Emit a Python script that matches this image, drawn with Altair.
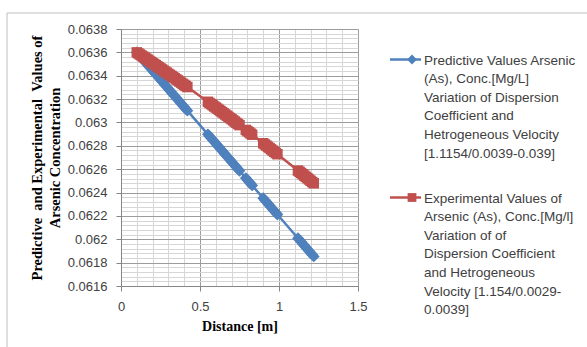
import altair as alt
import pandas as pd

# ---------------- data ----------------
distance = [
    0.10, 0.11, 0.12, 0.13, 0.14, 0.15, 0.16, 0.17, 0.18, 0.19, 0.20, 0.21,
    0.22, 0.23, 0.24, 0.25, 0.26, 0.27, 0.28, 0.29, 0.30, 0.31, 0.32, 0.33,
    0.34, 0.35, 0.36, 0.37, 0.38, 0.39, 0.40, 0.41, 0.42,
    0.55, 0.56, 0.57, 0.58, 0.59, 0.60, 0.61, 0.62, 0.63, 0.64, 0.65, 0.66,
    0.67, 0.68, 0.69, 0.70, 0.71, 0.72, 0.73, 0.74, 0.75,
    0.79, 0.80, 0.81, 0.82, 0.83,
    0.90, 0.91, 0.92, 0.93, 0.94, 0.95, 0.96, 0.97, 0.98, 0.99,
    1.12, 1.13, 1.14, 1.15, 1.16, 1.17, 1.18, 1.19, 1.20, 1.21, 1.22,
]

predicted = [
    0.063600, 0.063584, 0.063569, 0.063553, 0.063538, 0.063522, 0.063506,
    0.063491, 0.063475, 0.063460, 0.063444, 0.063428, 0.063413, 0.063397,
    0.063382, 0.063366, 0.063350, 0.063335, 0.063319, 0.063304, 0.063288,
    0.063272, 0.063257, 0.063241, 0.063226, 0.063210, 0.063194, 0.063179,
    0.063163, 0.063148, 0.063132, 0.063116, 0.063101,
    0.062898, 0.062882, 0.062867, 0.062851, 0.062836, 0.062820, 0.062804,
    0.062789, 0.062773, 0.062758, 0.062742, 0.062726, 0.062711, 0.062695,
    0.062680, 0.062664, 0.062648, 0.062633, 0.062617, 0.062602, 0.062586,
    0.062524, 0.062508, 0.062492, 0.062477, 0.062461,
    0.062352, 0.062336, 0.062321, 0.062305, 0.062290, 0.062274, 0.062258,
    0.062243, 0.062227, 0.062212,
    0.062009, 0.061993, 0.061978, 0.061962, 0.061946, 0.061931, 0.061915,
    0.061900, 0.061884, 0.061868, 0.061853,
]

experimental = [
    0.063600, 0.063591, 0.063582, 0.063573, 0.063564, 0.063555, 0.063546,
    0.063537, 0.063527, 0.063518, 0.063509, 0.063500, 0.063491, 0.063481,
    0.063472, 0.063463, 0.063454, 0.063444, 0.063435, 0.063426, 0.063416,
    0.063407, 0.063398, 0.063388, 0.063379, 0.063369, 0.063360, 0.063350,
    0.063341, 0.063331, 0.063322, 0.063312, 0.063303,
    0.063177, 0.063167, 0.063157, 0.063147, 0.063137, 0.063128, 0.063118,
    0.063108, 0.063098, 0.063088, 0.063078, 0.063068, 0.063058, 0.063048,
    0.063038, 0.063028, 0.063018, 0.063007, 0.062997, 0.062987, 0.062977,
    0.062936, 0.062926, 0.062916, 0.062905, 0.062895,
    0.062822, 0.062812, 0.062802, 0.062791, 0.062781, 0.062770, 0.062759,
    0.062749, 0.062738, 0.062728,
    0.062588, 0.062578, 0.062567, 0.062556, 0.062545, 0.062534, 0.062523,
    0.062512, 0.062501, 0.062490, 0.062479,
]

series_names = ["Predictive", "Experimental"]
series_colors = ["#4F81BD", "#C0504D"]
series_shapes = ["diamond", "square"]
series_sizes = [140, 110]

legend_predictive = [
    "Predictive Values Arsenic",
    "(As),  Conc.[Mg/L]",
    "Variation of  Dispersion",
    "Coefficient and",
    "Hetrogeneous Velocity",
    "[1.1154/0.0039-0.039]",
]
legend_experimental = [
    "Experimental Values of",
    "Arsenic (As), Conc.[Mg/l]",
    "Variation of of",
    "Dispersion Coefficient",
    "and  Hetrogeneous",
    "Velocity [1.154/0.0029-",
    "0.0039]",
]

y_major = [0.0616, 0.0618, 0.0620, 0.0622, 0.0624, 0.0626, 0.0628,
           0.0630, 0.0632, 0.0634, 0.0636, 0.0638]
x_major = [0, 0.5, 1, 1.5]
y_minor = [round(0.0616 + i * 0.00004, 5) for i in range(56)]
x_minor = [round(i * 0.1, 1) for i in range(16)]

x_title = "Distance [m]"
y_title = ["Predictive \u00a0and Experimental \u00a0Values of", "Arsenic Concentration"]

# ---------------- table ----------------
rows = []
for name, values in (("Predictive", predicted), ("Experimental", experimental)):
    for d, v in zip(distance, values):
        rows.append({"series": name, "distance": d, "conc": v})
df = pd.DataFrame(rows)

LABEL_FONT = "Liberation Sans"
TITLE_FONT = "Liberation Serif"
TEXT_COLOR = "#404040"
MAJOR_GRID = "#9C9C9C"
MINOR_GRID = "#D6D6D6"
AXIS_COLOR = "#868686"

W, H = 237, 257

y_test = "abs(datum.value*5000 - round(datum.value*5000)) < 1e-6"
x_test = "abs(datum.value*2 - round(datum.value*2)) < 1e-6"

x_axis = alt.Axis(
    values=x_minor, grid=True,
    gridColor={"condition": {"test": x_test, "value": MAJOR_GRID}, "value": MINOR_GRID},
    gridWidth=1,
    tickColor={"condition": {"test": x_test, "value": AXIS_COLOR}, "value": "transparent"},
    tickSize=5, tickWidth=1,
    domainColor=AXIS_COLOR, domainWidth=1,
    labelExpr=f"{x_test} ? format(datum.value, '~g') : ''",
    labelFont=LABEL_FONT, labelFontSize=13, labelColor=TEXT_COLOR,
    labelPadding=9, labelFlush=False, labelOverlap=False,
    title=x_title, titleFont=TITLE_FONT, titleFontSize=14, titleFontWeight="bold",
    titleColor="black", titleX=W / 2, titleY=44, titleAlign="center",
    titleBaseline="alphabetic",
)

y_axis = alt.Axis(
    values=y_minor, grid=True,
    gridColor={"condition": {"test": y_test, "value": MAJOR_GRID}, "value": MINOR_GRID},
    gridWidth=1,
    tickColor={"condition": {"test": y_test, "value": AXIS_COLOR}, "value": "transparent"},
    tickSize=5, tickWidth=1,
    domainColor=AXIS_COLOR, domainWidth=1,
    labelExpr=f"{y_test} ? format(datum.value, '.4~f') : ''",
    labelFont=LABEL_FONT, labelFontSize=13, labelColor=TEXT_COLOR,
    labelPadding=9, labelOverlap=False,
    title=y_title, titleFont=TITLE_FONT, titleFontSize=14.5, titleFontWeight="bold",
    titleColor="black", titleAngle=270, titleX=-91, titleY=H / 2,
    titleAlign="center", titleBaseline="top", titleLineHeight=18,
)

x_enc = alt.X("distance:Q", scale=alt.Scale(domain=[0, 1.5], nice=False), axis=x_axis)
y_enc = alt.Y("conc:Q", scale=alt.Scale(domain=[0.0616, 0.0638], nice=False, zero=False), axis=y_axis)
color_enc = alt.Color("series:N", scale=alt.Scale(domain=series_names, range=series_colors), legend=None)

lines = alt.Chart(df).mark_line(strokeWidth=2.5).encode(
    x=x_enc, y=y_enc, color=color_enc, detail="series:N"
)
points = alt.Chart(df).mark_point(filled=True, opacity=1).encode(
    x=x_enc, y=y_enc, color=color_enc,
    shape=alt.Shape("series:N", scale=alt.Scale(domain=series_names, range=series_shapes), legend=None),
    size=alt.Size("series:N", scale=alt.Scale(domain=series_names, range=series_sizes), legend=None),
)

# ---------------- outer chart-area frame ----------------
frame = alt.Chart(pd.DataFrame({"k": [0]})).mark_rect(
    fillOpacity=0, stroke="#BFBFBF", strokeWidth=1
).encode(x=alt.value(-114), x2=alt.value(479), y=alt.value(-16), y2=alt.value(330))

# ---------------- legend ----------------
def legend_entry(lines_text, color, shape, size, top):
    d = pd.DataFrame({"label": ["|".join(lines_text)]})
    sym_y = top + 6
    rule = alt.Chart(d).mark_rule(strokeWidth=2.5, color=color).encode(
        x=alt.value(269), x2=alt.value(300), y=alt.value(sym_y))
    mark = alt.Chart(d).mark_point(filled=True, opacity=1, color=color, shape=shape, size=size * 0.7).encode(
        x=alt.value(291), y=alt.value(sym_y))
    text = alt.Chart(d).mark_text(
        align="left", baseline="top", font=LABEL_FONT, fontSize=13.5,
        color=TEXT_COLOR, lineBreak="|", lineHeight=18.6,
    ).encode(x=alt.value(303), y=alt.value(top), text="label:N")
    return [rule, mark, text]

legend_layers = (
    legend_entry(legend_predictive, series_colors[0], series_shapes[0], series_sizes[0], 24.5)
    + legend_entry(legend_experimental, series_colors[1], series_shapes[1], series_sizes[1], 162.5)
)

chart = alt.layer(frame, lines, points, *legend_layers).properties(
    width=W, height=H,
    autosize=alt.AutoSizeParams(type="none"),
    padding={"left": 121, "top": 29, "right": 587 - 121 - W, "bottom": 347 - 29 - H},
    background="white",
).configure_view(strokeWidth=0)

chart.save("out.html", embed_options={"renderer": "svg", "actions": False})
